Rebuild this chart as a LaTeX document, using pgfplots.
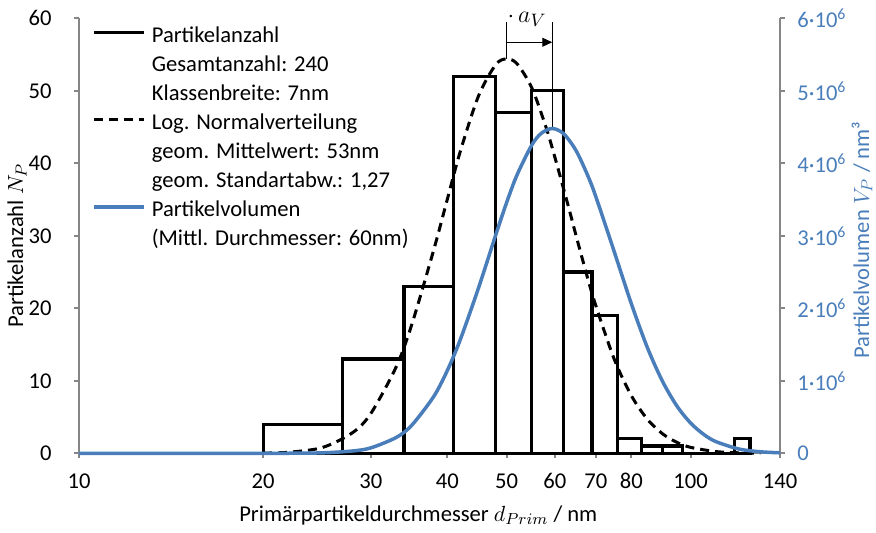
\documentclass[border=0pt]{standalone}
\usepackage{fontspec}
\setmainfont{Carlito}
\usepackage{pgfplots}
\pgfplotsset{compat=1.18}
\usetikzlibrary{arrows.meta}
\definecolor{vblue}{RGB}{74,126,187}
\definecolor{axgray}{RGB}{134,134,134}
\newcommand\ff{\fontsize{11.3}{13.5}\selectfont}

\begin{document}
\begin{tikzpicture}[font=\ff]
\path[use as bounding box] (-39.5pt,-39.35pt) rectangle (398.5pt,226.65pt);

\begin{axis}[
  at={(0pt,0pt)}, anchor=south west,
  width=350.5pt, height=217.5pt, scale only axis,
  xmode=log, xmin=10, xmax=140, ymin=0, ymax=60,
  axis x line*=bottom, axis y line*=left,
  axis line style={axgray, line width=1pt, -},
  tick style={axgray, line width=1pt},
  tick align=outside, major tick length=2.5pt,
  xtick={10,20,30,40,50,60,70,80,100,140},
  xticklabels={10,20,30,40,50,60,70,80,100,140},
  minor xtick={},
  ytick={0,10,...,60},
  /pgf/number format/assume math mode=true,
  tick label style={font=\ff, text=black},
  xticklabel style={anchor=center, inner sep=0pt, yshift=-11.5pt},
  yticklabel style={anchor=east, inner sep=0pt, xshift=-11pt},
  xlabel={Primärpartikeldurchmesser $d_{Prim}$ / nm},
  ylabel={Partikelanzahl $N_P$},
  xlabel style={at={(axis description cs:0.484,0)}, anchor=center, yshift=-31pt, font=\ff},
  ylabel style={at={(axis description cs:-0.0884,0.478)}, anchor=center, font=\ff},
  clip=false,
  legend cell align=left,
  legend image code/.code={\draw[#1] (0pt,0pt) -- (25pt,0pt);},
  legend style={draw=none, fill=none, at={(rel axis cs:0.019,1)}, anchor=north west,
    inner sep=0pt, outer sep=0pt, row sep=0pt, column sep=3pt, font=\ff,
    nodes={inner sep=0pt, text height=12pt, text depth=2.5pt}},
]
% histogram, class width 7 nm
\addplot[ybar interval, draw=black, line width=1.6pt, fill=none, forget plot] coordinates {
  (20,4) (27,13) (34,23) (41,52) (48,47) (55,50) (62,25) (69,19) (76,2)
  (83,1) (90,1) (97,0) (104,0) (111,0) (118,2) (125,0)
};
% log-normal fit
\addplot[black, line width=1.5pt, dash pattern=on 4.5pt off 3pt, smooth, forget plot] coordinates {
  (20,0.034) (22,0.147) (25,0.80) (28,2.84) (30,5.49) (33,11.91) (35,17.75)
  (38,28.0) (40,35.0) (42,41.6) (45,49.3) (48,53.6) (50,54.4) (52,53.75)
  (55,50.4) (58,45.0) (60,40.8) (63,34.3) (65,29.96) (68,23.9) (70,20.35)
  (75,13.0) (80,7.95) (85,4.68) (90,2.68) (95,1.50) (100,0.82) (110,0.24)
  (120,0.07) (130,0.02)
};
\addlegendimage{black, line width=1.5pt}
\addlegendentry{Partikelanzahl}
\addlegendimage{empty legend}
\addlegendentry{Gesamtanzahl: 240}
\addlegendimage{empty legend}
\addlegendentry{Klassenbreite: 7nm}
\addlegendimage{black, line width=1.5pt, dash pattern=on 4.5pt off 3pt}
\addlegendentry{Log. Normalverteilung}
\addlegendimage{empty legend}
\addlegendentry{geom. Mittelwert: 53nm}
\addlegendimage{empty legend}
\addlegendentry{geom. Standartabw.: 1,27}
\addlegendimage{vblue, line width=1.75pt}
\addlegendentry{Partikelvolumen}
\addlegendimage{empty legend}
\addlegendentry{(Mittl. Durchmesser: 60nm)}

% shift annotation
\draw[black, line width=0.5pt] (axis cs:50.06,54.4) -- (axis cs:50.06,59.5);
\draw[black, line width=0.5pt] (axis cs:59.4,44.8) -- (axis cs:59.4,59.5);
\draw[black, line width=0.5pt, -{Triangle[length=5pt,width=4.5pt]}] (axis cs:50.06,56.7) -- (axis cs:59.4,56.7);
\node[font=\fontsize{12.5}{14}\selectfont, inner sep=0pt] at (axis cs:54.0,59.9) {$\cdot\,a_V$};
\end{axis}

\begin{axis}[
  at={(0pt,0pt)}, anchor=south west,
  width=350.5pt, height=217.5pt, scale only axis,
  xmode=log, xmin=10, xmax=140, ymin=0, ymax=6,
  axis x line=none, axis y line*=right,
  axis line style={axgray, line width=1pt, -},
  tick style={axgray, line width=1pt},
  tick align=outside, major tick length=2.5pt,
  ytick={0,1,...,6},
  yticklabels={0,1·10\textsuperscript{6},2·10\textsuperscript{6},3·10\textsuperscript{6},4·10\textsuperscript{6},5·10\textsuperscript{6},6·10\textsuperscript{6}},
  tick label style={font=\ff, text=vblue},
  yticklabel style={anchor=west, inner sep=0pt, xshift=6pt},
  ylabel={Partikelvolumen $V_P$ / nm³},
  ylabel style={at={(axis description cs:1.117,0.49)}, anchor=center, font=\ff, text=vblue},
  clip=false,
]
\addplot[vblue, line width=1.75pt, smooth] coordinates {
  (10,0) (15,0) (18,0) (20,0.0001) (22,0.0008) (25,0.0064) (28,0.032) (30,0.075)
  (33,0.218) (35,0.387) (38,0.781) (40,1.14) (42,1.565) (45,2.282) (48,3.01)
  (50,3.455) (52,3.837) (55,4.253) (57,4.414) (59.4,4.48) (62,4.408) (65,4.172)
  (68,3.817) (70,3.538) (75,2.783) (80,2.062) (85,1.455) (90,0.989) (95,0.650)
  (100,0.417) (105,0.262) (110,0.161) (120,0.059) (130,0.021) (140,0.007)
};
\end{axis}
\end{tikzpicture}
\end{document}
